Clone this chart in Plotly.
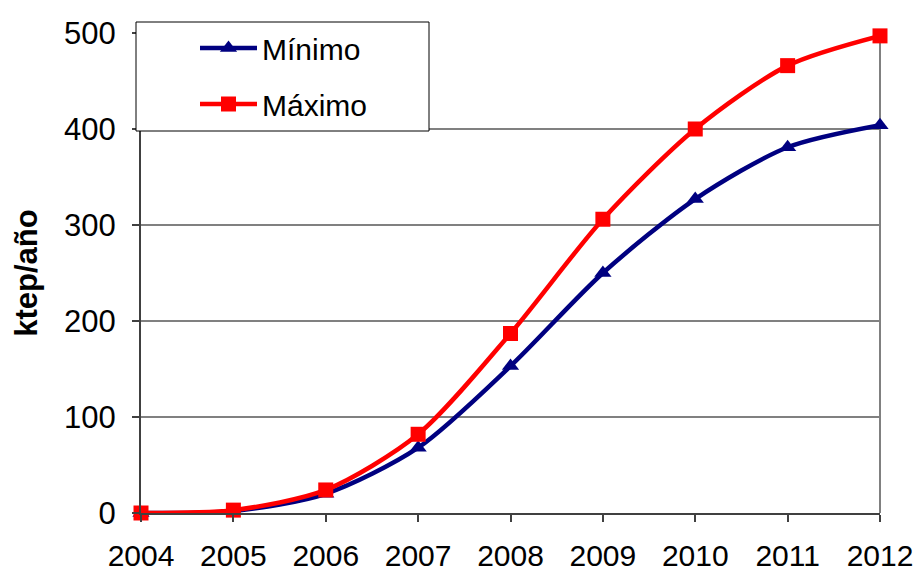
import plotly.graph_objects as go

years = [2004, 2005, 2006, 2007, 2008, 2009, 2010, 2011, 2012]
minimo = [0, 2, 20, 68, 153, 250, 327, 381, 404]
maximo = [0, 3, 24, 82, 187, 306, 400, 466, 497]
y_ticks = [0, 100, 200, 300, 400, 500]

FONT = "Liberation Sans, Arial, sans-serif"
W, H = 916, 573
L, R, T, B = 141, 916 - 880, 33, 573 - 513
pw, ph = W - L - R, H - T - B

def px2paper_x(px):
    return (px - L) / pw

def px2paper_y(py):
    return (H - B - py) / ph

fig = go.Figure()
fig.add_trace(go.Scatter(
    x=years, y=minimo, name="Mínimo", mode="lines+markers",
    line=dict(color="#000080", width=4.5, shape="spline", smoothing=0.8),
    marker=dict(symbol="triangle-up", size=15, color="#000080"),
    cliponaxis=False, legendgroup="a"))
fig.add_trace(go.Scatter(
    x=years, y=maximo, name="Máximo", mode="lines+markers",
    line=dict(color="#FF0000", width=4.5, shape="spline", smoothing=0.8),
    marker=dict(symbol="square", size=15, color="#FF0000"),
    cliponaxis=False, legendgroup="b"))

# right border of plot area
fig.add_shape(type="line", xref="x domain", yref="y", x0=1, x1=1, y0=0, y1=500,
              line=dict(color="#808080", width=2), layer="below")
# legend box
fig.add_shape(type="rect", xref="paper", yref="paper",
              x0=px2paper_x(136), x1=px2paper_x(429),
              y0=px2paper_y(131), y1=px2paper_y(22),
              line=dict(color="black", width=1), fillcolor="white", layer="above")

fig.update_layout(
    width=W, height=H,
    margin=dict(l=L, r=R, t=T, b=B, autoexpand=False),
    paper_bgcolor="white", plot_bgcolor="white",
    font=dict(family=FONT, size=30, color="black"),
    showlegend=True,
    legend=dict(x=px2paper_x(195), y=px2paper_y(22), xanchor="left", yanchor="top",
                font=dict(family=FONT, size=30, color="black"), itemwidth=57,
                bgcolor="rgba(0,0,0,0)", borderwidth=0, tracegroupgap=14),
    xaxis=dict(range=[2004, 2012], tickvals=years, ticktext=[str(y) for y in years],
               showgrid=False, zeroline=False, showline=True, linecolor="#404040",
               linewidth=2, ticks="outside", ticklen=7, tickcolor="#404040", tickwidth=1.5,
               tickfont=dict(family=FONT, size=30), ticklabeloverflow="allow",
               ticklabelstandoff=8, automargin=False),
    yaxis=dict(range=[0, 500], tickvals=y_ticks, showgrid=True, gridcolor="#808080",
               gridwidth=1.5, zeroline=False, showline=True, linecolor="#404040",
               linewidth=2, ticks="outside", ticklen=7, tickcolor="#404040", tickwidth=1.5,
               tickfont=dict(family=FONT, size=31), automargin=False,
               ticklabelstandoff=10,
               title=dict(text="<b>ktep/año</b>", font=dict(family=FONT, size=31),
                          standoff=17)),
)

fig.write_html("out.html", config={"displayModeBar": False},
               post_script="document.body.style.margin='0';document.body.style.overflow='hidden';")
